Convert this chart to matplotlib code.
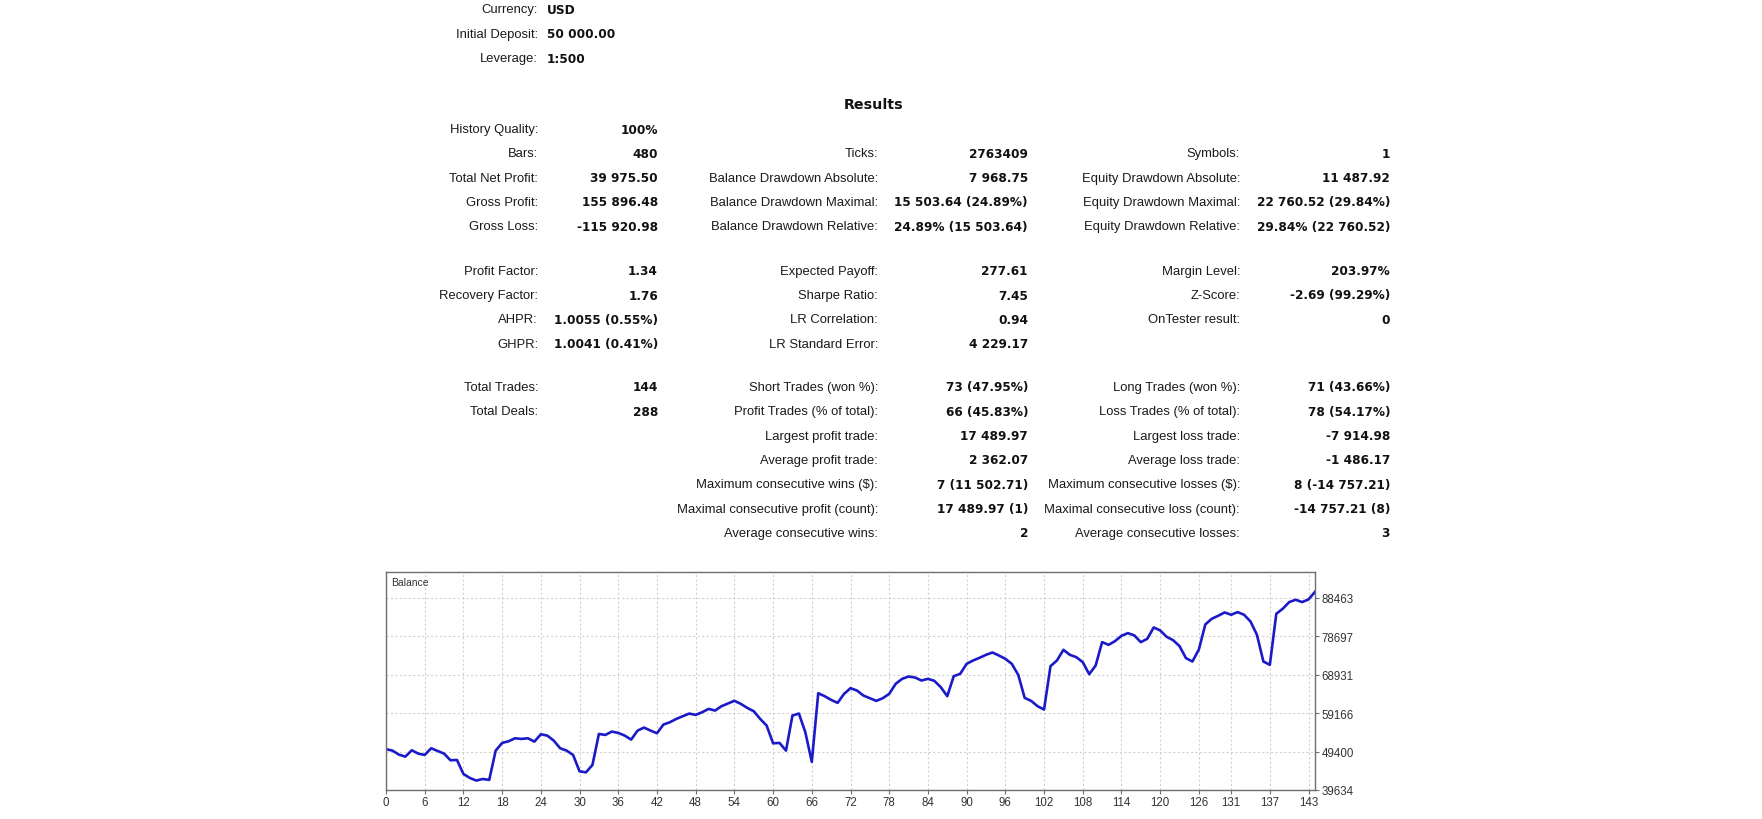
import matplotlib
matplotlib.use("Agg")
import matplotlib.pyplot as plt

W, H = 1762, 820

# balance after each trade (trade 0 = initial deposit)
balance = [
    50000, 49637, 48620, 48111, 49722, 48874, 48535, 50230, 49552, 48874,
    47179, 47263, 43703, 42686, 42031, 42431, 42200, 49637, 51587, 52010,
    52773, 52604, 52773, 51926, 53791, 53452, 52180, 50230, 49637, 48535,
    44381, 44127, 45992, 53875, 53621, 54469, 54130, 53452, 52434, 54723,
    55486, 54723, 54045, 56249, 56842, 57690, 58368, 59046, 58707, 59385,
    60233, 59809, 60911, 61589, 62289, 61505, 60487, 59640, 57690, 55995,
    51502, 51587, 49637, 58538, 59046, 54299, 46785, 64217, 63454, 62522,
    61759, 64048, 65489, 64895, 63624, 62946, 62268, 62946, 64048, 66591,
    67862, 68456, 68201, 67439, 67862, 67354, 65743, 63454, 68541, 69134,
    71677, 72525, 73203, 73966, 74559, 73796, 72949, 71677, 68880, 63031,
    62268, 60911, 60064, 71084, 72525, 75237, 73966, 73372, 72101, 69049,
    71253, 77187, 76509, 77441, 78798, 79476, 78883, 77187, 78035, 80917,
    80154, 78543, 77696, 76170, 73118, 72270, 75322, 81680, 83121, 83884,
    84732, 84138, 84816, 84138, 82443, 79052, 72270, 71423, 84393, 85664,
    87360, 87953, 87360, 88038, 89975.50,
]

x_ticks = [0, 6, 12, 18, 24, 30, 36, 42, 48, 54, 60, 66, 72, 78, 84, 90,
           96, 102, 108, 114, 120, 126, 131, 137, 143]
y_ticks = [39634, 49400, 59166, 68931, 78697, 88463]

header_labels = ["Currency:", "Initial Deposit:", "Leverage:"]
header_values = ["USD", "50 000.00", "1:500"]

# three columns, each split into three groups (None = empty row)
left_groups = [
    [("History Quality:", "100%"), ("Bars:", "480"),
     ("Total Net Profit:", "39 975.50"), ("Gross Profit:", "155 896.48"),
     ("Gross Loss:", "-115 920.98")],
    [("Profit Factor:", "1.34"), ("Recovery Factor:", "1.76"),
     ("AHPR:", "1.0055 (0.55%)"), ("GHPR:", "1.0041 (0.41%)")],
    [("Total Trades:", "144"), ("Total Deals:", "288")],
]
mid_groups = [
    [None, ("Ticks:", "2763409"),
     ("Balance Drawdown Absolute:", "7 968.75"),
     ("Balance Drawdown Maximal:", "15 503.64 (24.89%)"),
     ("Balance Drawdown Relative:", "24.89% (15 503.64)")],
    [("Expected Payoff:", "277.61"), ("Sharpe Ratio:", "7.45"),
     ("LR Correlation:", "0.94"), ("LR Standard Error:", "4 229.17")],
    [("Short Trades (won %):", "73 (47.95%)"),
     ("Profit Trades (% of total):", "66 (45.83%)"),
     ("Largest profit trade:", "17 489.97"),
     ("Average profit trade:", "2 362.07"),
     ("Maximum consecutive wins ($):", "7 (11 502.71)"),
     ("Maximal consecutive profit (count):", "17 489.97 (1)"),
     ("Average consecutive wins:", "2")],
]
right_groups = [
    [None, ("Symbols:", "1"),
     ("Equity Drawdown Absolute:", "11 487.92"),
     ("Equity Drawdown Maximal:", "22 760.52 (29.84%)"),
     ("Equity Drawdown Relative:", "29.84% (22 760.52)")],
    [("Margin Level:", "203.97%"), ("Z-Score:", "-2.69 (99.29%)"),
     ("OnTester result:", "0")],
    [("Long Trades (won %):", "71 (43.66%)"),
     ("Loss Trades (% of total):", "78 (54.17%)"),
     ("Largest loss trade:", "-7 914.98"),
     ("Average loss trade:", "-1 486.17"),
     ("Maximum consecutive losses ($):", "8 (-14 757.21)"),
     ("Maximal consecutive loss (count):", "-14 757.21 (8)"),
     ("Average consecutive losses:", "3")],
]

LABEL_FONT = dict(family="Liberation Sans", fontsize=9.4, color="#1a1a1a")
VALUE_FONT = dict(family="DejaVu Sans", fontsize=8.7, fontweight="bold", color="#111111")

fig = plt.figure(figsize=(W / 100, H / 100), dpi=100)
fig.patch.set_facecolor("white")


def put(x, y, s, **kw):
    fig.text(x / W, 1 - y / H, s, **kw)


# header block
for i, (lab, val) in enumerate(zip(header_labels, header_values)):
    y = 10.5 + i * 24.4
    put(538, y, lab, ha="right", va="center", **LABEL_FONT)
    put(547, y, val, ha="left", va="center", **VALUE_FONT)

put(874, 105, "Results", ha="center", va="center", family="DejaVu Sans",
    fontsize=10.3, fontweight="bold", color="#111111")

group_top = [130, 271.7, 388]
row_step = 24.3
columns = [(538, 658, left_groups), (878, 1028, mid_groups), (1240, 1390, right_groups)]
for lab_x, val_x, groups in columns:
    for g, rows in enumerate(groups):
        for r, item in enumerate(rows):
            if item is None:
                continue
            y = group_top[g] + r * row_step
            put(lab_x, y, item[0], ha="right", va="center", **LABEL_FONT)
            put(val_x, y, item[1], ha="right", va="center", **VALUE_FONT)

# balance chart
left, right, top, bottom = 386, 1315, 573, 791
ax = fig.add_axes([left / W, 1 - bottom / H, (right - left) / W, (bottom - top) / H])
ax.plot(range(len(balance)), balance, color="#1a1ac8", lw=1.9, solid_joinstyle="round")
ax.set_xlim(0, len(balance) - 1)
ax.set_ylim(y_ticks[0], 95000)
ax.set_xticks(x_ticks)
ax.set_xticklabels([str(t) for t in x_ticks])
ax.set_yticks(y_ticks)
ax.set_yticklabels([str(t) for t in y_ticks])
ax.yaxis.tick_right()
ax.grid(True, color="#d2d2d2", linestyle=(0, (2, 2)), lw=0.8)
ax.set_axisbelow(True)
for sp in ax.spines.values():
    sp.set_color("#6e6e6e")
    sp.set_linewidth(1.0)
ax.tick_params(length=3, width=0.8, color="#6e6e6e", pad=1.5,
               labelsize=8.3, labelcolor="#333333")
for lbl in ax.get_xticklabels() + ax.get_yticklabels():
    lbl.set_family("Liberation Sans")
ax.text(0.006, 0.955, "Balance", transform=ax.transAxes, ha="left", va="center",
        family="Liberation Sans", fontsize=7.5, color="#333333")

fig.savefig("out.png", dpi=100)
